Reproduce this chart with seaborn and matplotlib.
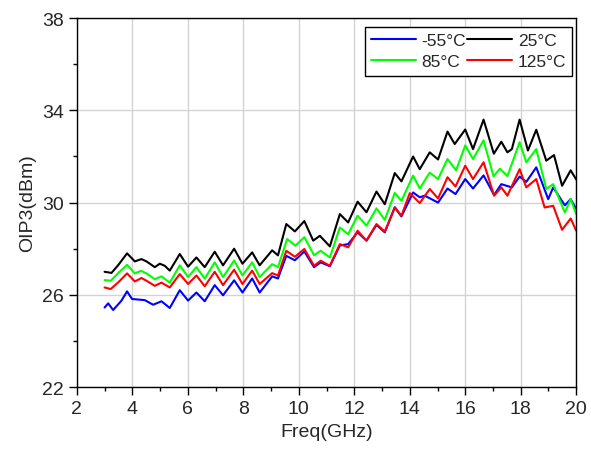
import numpy as np
import pandas as pd
import matplotlib
matplotlib.use("Agg")
import matplotlib.pyplot as plt
import seaborn as sns
from matplotlib.ticker import MultipleLocator
from matplotlib.lines import Line2D

labels = ["-55°C", "25°C", "85°C", "125°C"]
colors = ["#0000ff", "#000000", "#00ff00", "#ff0000"]

x_m55 = [3.0, 3.13, 3.31, 3.61, 3.81, 3.99, 4.45, 4.75, 5.05, 5.35, 5.71, 6.01, 6.31, 6.61,
         6.97, 7.27, 7.67, 7.97, 8.32, 8.59, 9.04, 9.25, 9.55, 9.86, 10.2, 10.55, 10.79,
         11.12, 11.48, 11.78, 12.12, 12.44, 12.8, 13.1, 13.46, 13.7, 14.12, 14.36, 14.54,
         15.02, 15.36, 15.65, 16.0, 16.28, 16.66, 17.04, 17.3, 17.68, 17.96, 18.2, 18.56,
         18.99, 19.17, 19.59, 19.8, 20.0]
y_m55 = [25.45, 25.63, 25.34, 25.75, 26.15, 25.82, 25.77, 25.57, 25.72, 25.43, 26.2, 25.75,
         26.1, 25.72, 26.42, 25.98, 26.63, 26.1, 26.71, 26.1, 26.8, 26.71, 27.69, 27.5,
         27.88, 27.2, 27.41, 27.24, 28.14, 28.2, 28.71, 28.35, 29.03, 28.71, 29.8, 29.4,
         30.44, 30.23, 30.3, 30.0, 30.61, 30.37, 31.02, 30.61, 31.18, 30.33, 30.8, 30.66,
         31.13, 30.9, 31.53, 30.15, 30.66, 29.88, 30.15, 29.72]

x_25 = [3.0, 3.25, 3.5, 3.81, 4.09, 4.33, 4.51, 4.81, 4.99, 5.17, 5.35, 5.71, 6.01, 6.31,
        6.61, 6.97, 7.27, 7.67, 7.97, 8.32, 8.59, 9.04, 9.25, 9.55, 9.86, 10.2, 10.52, 10.76,
        11.12, 11.48, 11.78, 12.12, 12.44, 12.8, 13.1, 13.46, 13.7, 14.12, 14.36, 14.72,
        15.02, 15.36, 15.62, 16.0, 16.28, 16.66, 17.03, 17.3, 17.52, 17.68, 17.96, 18.26,
        18.56, 18.92, 19.2, 19.49, 19.8, 20.0]
y_25 = [27.0, 26.95, 27.3, 27.8, 27.45, 27.55, 27.45, 27.2, 27.35, 27.26, 27.05, 27.77,
        27.22, 27.62, 27.2, 27.87, 27.28, 28.0, 27.35, 27.84, 27.28, 27.93, 27.71, 29.07,
        28.75, 29.2, 28.35, 28.56, 28.1, 29.5, 29.14, 30.04, 29.58, 30.48, 29.93, 31.28,
        30.92, 32.0, 31.45, 32.18, 31.87, 33.08, 32.54, 33.17, 32.32, 33.6, 32.12, 32.64,
        32.18, 32.32, 33.6, 32.26, 33.16, 31.82, 32.06, 30.73, 31.4, 31.0]

x_85 = [3.0, 3.22, 3.5, 3.81, 4.09, 4.31, 4.51, 4.81, 5.05, 5.35, 5.71, 6.01, 6.31, 6.61,
        6.97, 7.27, 7.67, 7.97, 8.32, 8.59, 9.04, 9.25, 9.58, 9.88, 10.2, 10.55, 10.79,
        11.12, 11.48, 11.78, 12.12, 12.44, 12.8, 13.1, 13.46, 13.7, 14.12, 14.36, 14.72,
        15.02, 15.36, 15.67, 16.0, 16.28, 16.66, 17.02, 17.25, 17.52, 17.96, 18.2, 18.56,
        18.92, 19.17, 19.59, 19.8, 20.0]
y_85 = [26.64, 26.61, 26.95, 27.3, 26.93, 27.04, 26.93, 26.68, 26.8, 26.53, 27.28, 26.77,
        27.2, 26.7, 27.41, 26.77, 27.49, 26.84, 27.41, 26.77, 27.33, 27.2, 28.42, 28.13,
        28.5, 27.72, 27.91, 27.62, 28.92, 28.63, 29.43, 29.0, 29.75, 29.25, 30.42, 30.08,
        31.17, 30.61, 31.3, 31.02, 31.89, 31.4, 32.48, 31.89, 32.7, 31.14, 31.47, 31.15,
        32.62, 31.75, 32.32, 30.59, 30.8, 29.57, 30.15, 29.5]

x_125 = [3.0, 3.22, 3.5, 3.81, 4.09, 4.33, 4.51, 4.81, 5.05, 5.35, 5.71, 6.01, 6.31, 6.61,
         6.97, 7.27, 7.67, 7.97, 8.32, 8.59, 9.04, 9.25, 9.55, 9.86, 10.2, 10.55, 10.79,
         11.12, 11.48, 11.78, 12.12, 12.44, 12.8, 13.1, 13.46, 13.7, 14.0, 14.36, 14.72,
         15.02, 15.36, 15.65, 16.0, 16.28, 16.66, 17.04, 17.3, 17.52, 17.96, 18.2, 18.56,
         18.86, 19.17, 19.49, 19.8, 20.0]
y_125 = [26.32, 26.25, 26.55, 26.93, 26.58, 26.73, 26.61, 26.39, 26.53, 26.32, 26.9, 26.47,
         26.84, 26.37, 27.0, 26.42, 27.09, 26.47, 27.05, 26.47, 26.94, 26.84, 27.91, 27.65,
         27.99, 27.26, 27.48, 27.26, 28.2, 28.06, 28.78, 28.35, 29.07, 28.74, 29.78, 29.43,
         30.41, 29.98, 30.59, 30.18, 31.1, 30.7, 31.6, 31.02, 31.75, 30.3, 30.66, 30.3,
         31.45, 30.66, 31.02, 29.79, 29.86, 28.82, 29.31, 28.78]

xticks = [2, 4, 6, 8, 10, 12, 14, 16, 18, 20]
yticks = [22, 26, 30, 34, 38]

series = [(x_m55, y_m55), (x_25, y_25), (x_85, y_85), (x_125, y_125)]
frames = []
for lab, (xs, ys) in zip(labels, series):
    frames.append(pd.DataFrame({"Freq": xs, "OIP3": ys, "T": lab}))
df = pd.concat(frames, ignore_index=True)

sns.set_style("white")
plt.rcParams["font.family"] = ["Liberation Sans", "DejaVu Sans"]

fig = plt.figure(figsize=(5.91, 4.56), dpi=100)
ax = fig.add_axes([0.130, 0.149, 0.845, 0.809])

sns.lineplot(data=df, x="Freq", y="OIP3", hue="T", hue_order=labels,
             palette=dict(zip(labels, colors)), estimator=None, sort=False,
             linewidth=1.5, legend=False, ax=ax)
for ln in ax.lines:
    ln.set_solid_joinstyle("round")
    ln.set_solid_capstyle("round")

ax.set_xlim(2, 20)
ax.set_ylim(22, 38)
ax.set_xticks(xticks)
ax.set_yticks(yticks)
ax.xaxis.set_minor_locator(MultipleLocator(1))
ax.yaxis.set_minor_locator(MultipleLocator(2))
ax.grid(True, which="major", color="#d3d3d3", linewidth=1.0)
ax.set_axisbelow(True)
ax.tick_params(which="major", direction="out", length=6, width=1, labelsize=14,
               bottom=True, left=True, color="black")
ax.tick_params(which="minor", direction="out", length=3, width=1,
               bottom=True, left=True, color="black")
for s in ax.spines.values():
    s.set_color("black")
    s.set_linewidth(1.0)
ax.set_xlabel("Freq(GHz)", fontsize=14)
ax.set_ylabel("OIP3(dBm)", fontsize=14)

handles = [Line2D([], [], color=c, linewidth=1.5) for c in colors]
order = [0, 2, 1, 3]
leg = ax.legend([handles[i] for i in order], [labels[i] for i in order], ncol=2,
                loc="upper right", bbox_to_anchor=(0.992, 0.976), fontsize=12.5,
                frameon=True, fancybox=False, edgecolor="black", framealpha=1,
                handlelength=2.6, handletextpad=0.3, columnspacing=0.1,
                borderpad=0.35, labelspacing=0.35, borderaxespad=0)
leg.get_frame().set_linewidth(1.0)

fig.savefig("out.png", dpi=100)
